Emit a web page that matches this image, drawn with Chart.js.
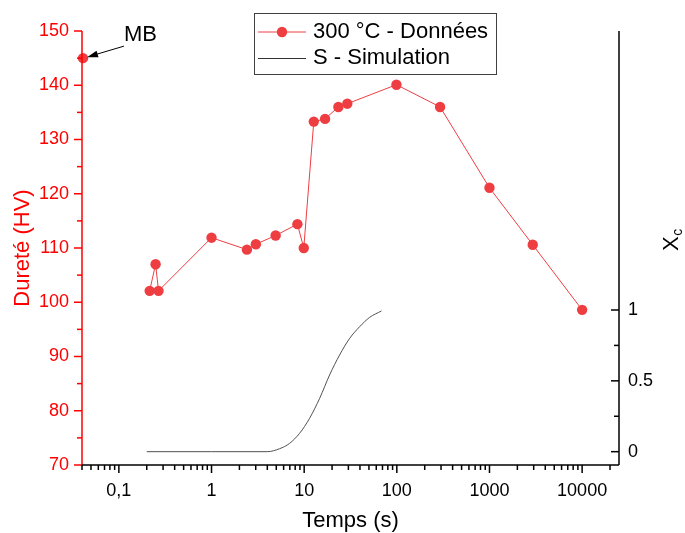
<!DOCTYPE html>
<html><head><meta charset="utf-8">
<script src="https://cdn.jsdelivr.net/npm/chart.js@4"></script>
<style>html,body{margin:0;padding:0;background:#fff}#wrap{width:685px;height:533px}</style>
</head><body><div id="wrap"><canvas id="c" width="685" height="533"></canvas></div>
<script>
// ---- data ----
const hardnessTimes  = [0.215, 0.249, 0.268, 1.0, 2.41, 3.01, 4.92, 8.45, 9.9, 12.7, 16.8, 23.4, 29.2, 99, 293, 1000, 2930, 10000];
const hardnessValues = [102.1, 107.0, 102.1, 111.9, 109.7, 110.7, 112.3, 114.4, 110.0, 133.3, 133.8, 136.0, 136.6, 140.1, 136.0, 121.1, 110.6, 98.6];
const mbTimes  = [0.041];
const mbValues = [145];
const simTimes  = [0.2, 1, 4.0, 5.43, 6.97, 8.93, 11.45, 14.7, 18.8, 24.1, 31.0, 39.7, 50.9, 68.2];
const simValues = [0, 0, 0, 0.021, 0.059, 0.13, 0.236, 0.377, 0.541, 0.682, 0.80, 0.882, 0.948, 0.993];
const xTickValues = [0.1, 1, 10, 100, 1000, 10000];
const xTickLabels = ['0,1', '1', '10', '100', '1000', '10000'];
const yTickValues = [70, 80, 90, 100, 110, 120, 130, 140, 150];
const yTickLabels = ['70', '80', '90', '100', '110', '120', '130', '140', '150'];
const y2TickValues = [0, 0.5, 1];
const y2TickLabels = ['0', '0.5', '1'];
const legendLabels = ['300 °C - Données', 'S - Simulation'];
const xTitle = 'Temps (s)';
const yTitle = 'Dureté (HV)';
const mbLabel = 'MB';

const FONT = '"Liberation Sans", Arial, sans-serif';
const RED = '#ff0000';
const PT = '#ee3e42';

function zip(xs, ys) { return xs.map((x, i) => ({x: x, y: ys[i]})); }

const overlay = {
  id: 'overlay',
  afterDatasetsDraw(chart) {
    const ctx = chart.ctx;
    const ca = chart.chartArea;
    const xs = chart.scales.x, ys = chart.scales.y, y2 = chart.scales.y2;
    ctx.save();
    // left axis (red)
    ctx.strokeStyle = RED; ctx.lineWidth = 1.5;
    ctx.beginPath(); ctx.moveTo(ca.left, ca.top); ctx.lineTo(ca.left, ca.bottom); ctx.stroke();
    for (let v = 70; v <= 150; v += 5) {
      const y = ys.getPixelForValue(v);
      const len = (v % 10 === 0) ? 8 : 5;
      ctx.beginPath(); ctx.moveTo(ca.left - len, y); ctx.lineTo(ca.left, y); ctx.stroke();
    }
    // bottom axis (black)
    ctx.strokeStyle = '#000'; ctx.lineWidth = 1.5;
    ctx.beginPath(); ctx.moveTo(ca.left, ca.bottom); ctx.lineTo(ca.right, ca.bottom); ctx.stroke();
    for (let d = 0.01; d <= 10000 * 1.01; d *= 10) {
      for (let k = 1; k <= 9; k++) {
        const v = k * d;
        if (v < xs.min * 0.999 || v > xs.max * 1.001) continue;
        const x = xs.getPixelForValue(v);
        const len = k === 1 ? 8 : 5;
        ctx.beginPath(); ctx.moveTo(x, ca.bottom); ctx.lineTo(x, ca.bottom + len); ctx.stroke();
      }
    }
    // right axis (black), inward ticks
    ctx.beginPath(); ctx.moveTo(ca.right, ca.top); ctx.lineTo(ca.right, ca.bottom); ctx.stroke();
    [0, 0.25, 0.5, 0.75, 1].forEach(v => {
      const y = y2.getPixelForValue(v);
      const len = (v === 0 || v === 0.5 || v === 1) ? 8 : 5;
      ctx.beginPath(); ctx.moveTo(ca.right - len, y); ctx.lineTo(ca.right, y); ctx.stroke();
    });
    ctx.restore();
  },
  afterDraw(chart) {
    const ctx = chart.ctx;
    const ca = chart.chartArea;
    const xs = chart.scales.x, ys = chart.scales.y;
    ctx.save();
    // axis titles
    ctx.fillStyle = '#000'; ctx.font = '22px ' + FONT;
    ctx.textAlign = 'center'; ctx.textBaseline = 'middle';
    ctx.fillText(xTitle, (ca.left + ca.right) / 2, 521);
    ctx.save();
    ctx.translate(22.5, 248); ctx.rotate(-Math.PI / 2);
    ctx.fillStyle = RED; ctx.fillText(yTitle, 0, 0);
    ctx.restore();
    // X_c title
    ctx.save();
    ctx.translate(670, 251); ctx.rotate(-Math.PI / 2);
    ctx.fillStyle = '#000'; ctx.textAlign = 'left'; ctx.textBaseline = 'alphabetic';
    ctx.font = '22px ' + FONT;
    ctx.fillText('X', 0, 7.5);
    const w = ctx.measureText('X').width;
    ctx.font = '14px ' + FONT;
    ctx.fillText('c', w + 0.5, 11.5);
    ctx.restore();
    // MB annotation
    const px = xs.getPixelForValue(mbTimes[0]) + 4;
    const py = ys.getPixelForValue(mbValues[0]) - 1;
    const tx = px + 37, ty = py - 11;
    ctx.strokeStyle = '#000'; ctx.fillStyle = '#000'; ctx.lineWidth = 1;
    ctx.beginPath(); ctx.moveTo(tx, ty); ctx.lineTo(px + 8, py - 2.4); ctx.stroke();
    const ang = Math.atan2(py - ty, px - tx);
    ctx.beginPath();
    ctx.moveTo(px, py);
    ctx.lineTo(px - 11 * Math.cos(ang) + 3.5 * Math.sin(ang), py - 11 * Math.sin(ang) - 3.5 * Math.cos(ang));
    ctx.lineTo(px - 11 * Math.cos(ang) - 3.5 * Math.sin(ang), py - 11 * Math.sin(ang) + 3.5 * Math.cos(ang));
    ctx.closePath(); ctx.fill();
    ctx.font = '22px ' + FONT; ctx.textAlign = 'left'; ctx.textBaseline = 'middle';
    ctx.fillText(mbLabel, 124, 35);
    // legend
    const lx = 254.5, ly = 13.5, lw = 242, lh = 61;
    ctx.fillStyle = '#fff'; ctx.fillRect(lx, ly, lw, lh);
    ctx.strokeStyle = '#404040'; ctx.lineWidth = 1; ctx.strokeRect(lx, ly, lw, lh);
    ctx.strokeStyle = PT; ctx.beginPath(); ctx.moveTo(258, 32); ctx.lineTo(306, 32); ctx.stroke();
    ctx.fillStyle = PT; ctx.beginPath(); ctx.arc(282, 32, 5.2, 0, Math.PI * 2); ctx.fill();
    ctx.strokeStyle = '#333'; ctx.beginPath(); ctx.moveTo(258, 58.5); ctx.lineTo(306, 58.5); ctx.stroke();
    ctx.fillStyle = '#000'; ctx.font = '22px ' + FONT; ctx.textBaseline = 'middle'; ctx.textAlign = 'left';
    ctx.fillText(legendLabels[0], 313, 32);
    ctx.fillText(legendLabels[1], 313, 58);
    ctx.restore();
  }
};

new Chart(document.getElementById('c'), {
  type: 'line',
  data: {
    datasets: [
      { label: legendLabels[0], data: zip(hardnessTimes, hardnessValues), yAxisID: 'y',
        borderColor: PT, borderWidth: 1, backgroundColor: PT, pointBackgroundColor: PT,
        pointBorderWidth: 0, pointRadius: 5.2, tension: 0 },
      { label: 'MB', data: zip(mbTimes, mbValues), yAxisID: 'y', showLine: false,
        pointBackgroundColor: PT, pointBorderWidth: 0, pointRadius: 5.2, clip: false },
      { label: legendLabels[1], data: zip(simTimes, simValues), yAxisID: 'y2',
        borderColor: '#505050', borderWidth: 1, pointRadius: 0, cubicInterpolationMode: 'monotone' }
    ]
  },
  options: {
    responsive: false, animation: false, devicePixelRatio: 1,
    layout: { padding: { top: 31, left: 0, right: 0, bottom: 0 } },
    plugins: { legend: { display: false }, tooltip: { enabled: false } },
    scales: {
      x: {
        type: 'logarithmic', position: 'bottom', min: 0.04, max: 25000,
        grid: { display: false, drawTicks: false }, border: { display: false },
        afterBuildTicks: s => { s.ticks = xTickValues.map(v => ({ value: v })); },
        afterFit: s => { s.height = 68; },
        ticks: { autoSkip: false, maxRotation: 0, padding: 15, color: '#000',
                 font: { size: 18, family: FONT }, callback: (v, i) => xTickLabels[i] }
      },
      y: {
        type: 'linear', position: 'left', min: 70, max: 150,
        grid: { display: false, drawTicks: false }, border: { display: false },
        afterBuildTicks: s => { s.ticks = yTickValues.map(v => ({ value: v })); },
        afterFit: s => { s.width = 82; },
        ticks: { padding: 13, color: RED, font: { size: 18, family: FONT }, callback: (v, i) => yTickLabels[i] }
      },
      y2: {
        type: 'linear', position: 'right', min: -0.094, max: 2.969,
        grid: { display: false, drawTicks: false }, border: { display: false },
        afterBuildTicks: s => { s.ticks = y2TickValues.map(v => ({ value: v })); },
        afterFit: s => { s.width = 66; },
        ticks: { padding: 9, color: '#000', font: { size: 18, family: FONT }, callback: (v, i) => y2TickLabels[i] }
      }
    }
  },
  plugins: [overlay]
});
</script></body></html>
